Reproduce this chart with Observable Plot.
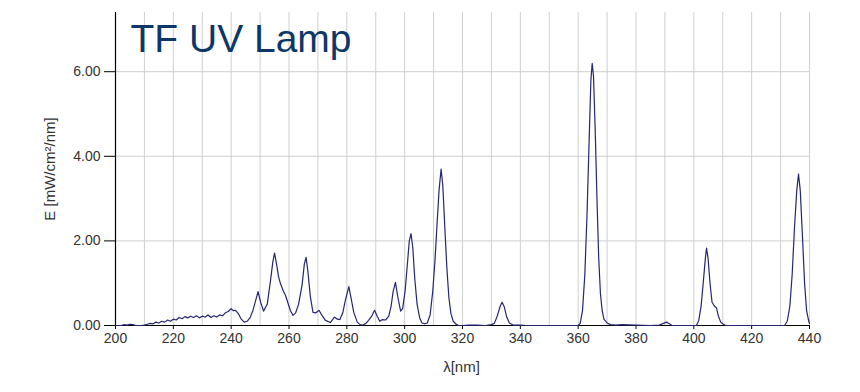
<!DOCTYPE html>
<html>
<head>
<meta charset="utf-8">
<script src="https://cdn.jsdelivr.net/npm/d3@7"></script>
<script src="https://cdn.jsdelivr.net/npm/@observablehq/plot@0.6"></script>
<style>
  html, body { margin: 0; padding: 0; background: #fff; }
  #chart svg { display: block; }
</style>
</head>
<body>
<div id="chart"></div>
<script>
// Wavelength (nm) and irradiance E (mW/cm²/nm)
const wavelength = [
  200, 202, 203, 204, 205, 206, 207, 209,
  210, 211, 212, 213, 214, 215, 216, 217, 218, 219,
  220, 221, 222, 223, 224, 225, 226, 227, 228, 229,
  230, 231, 232, 233, 234, 235, 236, 237, 238, 239,
  240, 240.7, 241.5, 242.5, 243.5, 244.5, 245.5, 246.5, 247.5, 248.5,
  249.3, 250.2, 251.2, 252.5, 253.6, 254.4, 255.0, 255.7, 256.4, 257.1,
  258.0, 258.8, 259.7, 260.5, 261.4, 262.3, 263.3, 264.5, 265.3, 265.9,
  266.5, 267.4, 268.3, 269.3, 270.4, 271.3, 272.6, 274.3, 275.7, 276.7,
  277.6, 278.6, 279.5, 280.7, 281.6, 282.4, 283.6, 284.6, 285.6, 286.6,
  287.5, 288.6, 289.6, 290.5, 291.4, 292.3, 293.4, 294.5, 295.3, 296.0,
  296.8, 297.7, 298.6, 299.3, 300.2, 301.0, 301.6, 302.2, 302.8, 303.5,
  304.3, 305.2, 306.0, 306.8, 307.8, 308.8, 309.7, 310.5, 311.2, 311.9,
  312.6, 313.2, 313.9, 314.6, 315.3, 316.0, 316.8, 317.8, 318.7, 320,
  322, 325, 328, 330, 331, 332, 333, 333.7, 334.4, 335.3,
  336.2, 337.5, 340, 342, 360, 360.7, 361.5, 362.3, 363.1, 363.8,
  364.4, 364.85, 365.3, 365.9, 366.5, 367.1, 367.7, 368.3, 368.9, 370,
  371.2, 373, 375, 380, 385, 388, 389.5, 390.5, 391.5, 392.5,
  400.9, 401.7, 402.5, 403.3, 404.0, 404.4, 404.9, 405.6, 406.3, 407.1,
  407.8, 408.5, 409.3, 410.2, 411, 431.4, 432.3, 433.2, 434.0, 434.8,
  435.6, 436.2, 436.8, 437.5, 438.3, 439.0, 439.8, 440
];
const irradiance = [
  0.00, 0.00, 0.02, 0.01, 0.03, 0.02, 0.00, 0.00,
  0.01, 0.03, 0.05, 0.04, 0.08, 0.06, 0.10, 0.08, 0.13, 0.10,
  0.15, 0.13, 0.19, 0.16, 0.21, 0.18, 0.22, 0.19, 0.23, 0.18,
  0.22, 0.20, 0.25, 0.19, 0.23, 0.20, 0.25, 0.23, 0.30, 0.33,
  0.40, 0.35, 0.36, 0.28, 0.15, 0.08, 0.10, 0.18, 0.35, 0.60,
  0.80, 0.55, 0.34, 0.51, 1.06, 1.50, 1.71, 1.45, 1.15, 0.98,
  0.82, 0.71, 0.52, 0.35, 0.24, 0.30, 0.50, 0.95, 1.45, 1.61,
  1.30, 0.67, 0.31, 0.30, 0.36, 0.25, 0.12, 0.07, 0.20, 0.15,
  0.14, 0.30, 0.60, 0.92, 0.60, 0.31, 0.08, 0.02, 0.01, 0.05,
  0.12, 0.22, 0.36, 0.22, 0.10, 0.14, 0.13, 0.22, 0.45, 0.80,
  1.02, 0.65, 0.34, 0.40, 0.85, 1.50, 2.00, 2.17, 1.85, 1.10,
  0.50, 0.18, 0.06, 0.04, 0.06, 0.25, 0.80, 1.55, 2.40, 3.20,
  3.70, 3.30, 2.30, 1.35, 0.65, 0.28, 0.10, 0.03, 0.00, 0.00,
  0.01, 0.01, 0.00, 0.02, 0.05, 0.22, 0.45, 0.55, 0.45, 0.20,
  0.06, 0.01, 0.01, 0.00, 0.00, 0.05, 0.35, 1.20, 2.70, 4.40,
  5.80, 6.20, 5.90, 4.60, 3.00, 1.60, 0.75, 0.35, 0.15, 0.06,
  0.02, 0.01, 0.02, 0.01, 0.00, 0.01, 0.05, 0.08, 0.04, 0.00,
  0.00, 0.12, 0.45, 1.05, 1.60, 1.83, 1.60, 1.00, 0.55, 0.46,
  0.42, 0.22, 0.08, 0.03, 0.00, 0.00, 0.10, 0.45, 1.20, 2.30,
  3.20, 3.58, 3.20, 2.20, 1.00, 0.35, 0.08, 0.05
];
const xTicks = [200, 220, 240, 260, 280, 300, 320, 340, 360, 380, 400, 420, 440];
const xGrid = [210, 220, 230, 240, 250, 260, 270, 280, 290, 300, 310, 320, 330, 340, 350, 360, 370, 380, 390, 400, 410, 420, 430, 440];
const yTicks = [0, 2, 4, 6];
const yGrid = [2, 4, 6];
const title = "TF UV Lamp";
const xLabel = "λ[nm]";
const yLabel = "E [mW/cm²/nm]";

const data = wavelength.map((w, i) => ({w, e: irradiance[i]}));

const chart = Plot.plot({
  width: 860,
  height: 392,
  marginLeft: 115,
  marginRight: 51,
  marginTop: 12,
  marginBottom: 67,
  x: {domain: [200, 440]},
  y: {domain: [0, 7.4]},
  style: {fontFamily: "'Liberation Sans', Arial, sans-serif", fontSize: "13px", color: "#333", background: "#fff"},
  marks: [
    Plot.gridX(xGrid, {stroke: "#cfcfcf", strokeOpacity: 1}),
    Plot.gridY(yGrid, {stroke: "#cfcfcf", strokeOpacity: 1}),
    Plot.axisY(yTicks, {tickSize: 11, tickPadding: 4, stroke: "#000", fill: "#333", tickFormat: d => d.toFixed(2), label: null, fontSize: 14}),
    Plot.axisX(xTicks, {tickSize: 4, tickPadding: 4, stroke: "#000", fill: "#333", label: null, fontSize: 14}),
    Plot.ruleX([200], {stroke: "#000", strokeWidth: 1.2}),
    Plot.ruleY([0], {stroke: "#000", strokeWidth: 1.2}),
    Plot.line(data, {x: "w", y: "e", stroke: "#262673", strokeWidth: 1.2}),
    Plot.text([title], {frameAnchor: "top-left", textAnchor: "start", lineAnchor: "top", dx: 15, dy: 12, fontSize: 39, fill: "#0d3768", fontFamily: "'Liberation Sans', Arial, sans-serif"}),
    Plot.text([xLabel], {frameAnchor: "bottom", textAnchor: "middle", lineAnchor: "middle", dx: -1, dy: 42, fontSize: 15, fill: "#333"}),
    Plot.text([yLabel], {frameAnchor: "left", textAnchor: "middle", lineAnchor: "middle", rotate: -90, dx: -65, dy: 0, fontSize: 15, fill: "#333"})
  ]
});
document.getElementById("chart").append(chart);
</script>
</body>
</html>
